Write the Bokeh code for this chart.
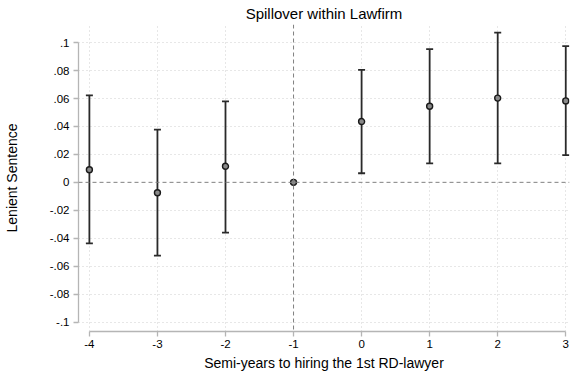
from bokeh.plotting import figure
from bokeh.models import ColumnDataSource, Whisker, TeeHead, Span, FixedTicker, Range1d
from bokeh.embed import file_html
from bokeh.resources import INLINE

# Data
periods = [-4, -3, -2, -1, 0, 1, 2, 3]
coef = [0.009, -0.0075, 0.0115, 0.0, 0.0435, 0.0545, 0.0603, 0.0583]
ci_upper = [0.0622, 0.0377, 0.0580, 0.0, 0.0805, 0.0953, 0.1072, 0.0975]
ci_lower = [-0.0437, -0.0525, -0.0360, 0.0, 0.0065, 0.0135, 0.0135, 0.0195]

y_ticks = [-0.1, -0.08, -0.06, -0.04, -0.02, 0.0, 0.02, 0.04, 0.06, 0.08, 0.1]
y_tick_labels = ["-.1", "-.08", "-.06", "-.04", "-.02", "0", ".02", ".04", ".06", ".08", ".1"]
x_ticks = [-4, -3, -2, -1, 0, 1, 2, 3]
x_tick_labels = ["-4", "-3", "-2", "-1", "0", "1", "2", "3"]

title_text = "Spillover within Lawfirm"
x_label = "Semi-years to hiring the 1st RD-lawyer"
y_label = "Lenient Sentence"
ref_x = -1
ref_y = 0

FONT = "Liberation Sans"

p = figure(
    frame_width=491, frame_height=307,
    x_range=Range1d(-4.16, 3.055), y_range=Range1d(-0.1068, 0.113),
    output_backend="svg", toolbar_location=None,
    min_border_left=72, min_border_right=1, min_border_top=0, min_border_bottom=0,
    background_fill_color="white", border_fill_color="white",
)
p.outline_line_color = None

p.title.text = title_text
p.title.align = "center"
p.title.text_font = FONT
p.title.text_font_size = "15px"
p.title.text_font_style = "normal"
p.title.text_color = "black"
p.title.standoff = 5

# grids
for g in (p.xgrid, p.ygrid):
    g.grid_line_color = "#cfcfcf"
    g.grid_line_dash = "1 3"
    g.grid_line_width = 1
p.xgrid.ticker = FixedTicker(ticks=[t for t in x_ticks if t != ref_x])
p.ygrid.ticker = FixedTicker(ticks=[t for t in y_ticks if t != ref_y])

# axes
p.xaxis.ticker = FixedTicker(ticks=x_ticks)
p.yaxis.ticker = FixedTicker(ticks=y_ticks)
p.xaxis.major_label_overrides = {t: l for t, l in zip(x_ticks, x_tick_labels)}
p.yaxis.major_label_overrides = {t: l for t, l in zip(y_ticks, y_tick_labels)}
p.xaxis.bounds = (x_ticks[0], x_ticks[-1])
p.yaxis.bounds = (y_ticks[0], y_ticks[-1])
for ax in (p.xaxis, p.yaxis):
    ax.axis_line_color = "#b5b5b5"
    ax.axis_line_width = 1.3
    ax.major_tick_line_color = "#b5b5b5"
    ax.major_tick_line_width = 1.3
    ax.major_tick_out = 5
    ax.major_tick_in = 0
    ax.minor_tick_line_color = None
    ax.major_label_text_font = FONT
    ax.major_label_text_font_size = "11.5px"
    ax.major_label_text_color = "black"
    ax.axis_label_text_font = FONT
    ax.axis_label_text_font_size = "14px"
    ax.axis_label_text_font_style = "normal"
    ax.axis_label_text_color = "black"
p.xaxis.axis_label = x_label
p.yaxis.axis_label = y_label
p.xaxis.major_label_standoff = 3
p.yaxis.major_label_standoff = 4
p.xaxis.axis_label_standoff = 4
p.yaxis.axis_label_standoff = 27

# reference lines
p.add_layout(Span(location=ref_y, dimension="width", line_color="#808080",
                  line_dash="4 3", line_width=1))
p.add_layout(Span(location=ref_x, dimension="height", line_color="#808080",
                  line_dash="4 3", line_width=1))

src = ColumnDataSource(dict(x=periods, y=coef, upper=ci_upper, lower=ci_lower))

w = Whisker(source=src, base="x", upper="upper", lower="lower",
            line_color="#2a2a2a", line_width=1.8,
            upper_head=TeeHead(size=7, line_color="#2a2a2a", line_width=1.8),
            lower_head=TeeHead(size=7, line_color="#2a2a2a", line_width=1.8))
p.add_layout(w)

p.scatter("x", "y", source=src, size=6, fill_color="#8a8a8a",
          line_color="#1a1a1a", line_width=1.4)

open("out.html", "w").write(file_html(p, INLINE))
